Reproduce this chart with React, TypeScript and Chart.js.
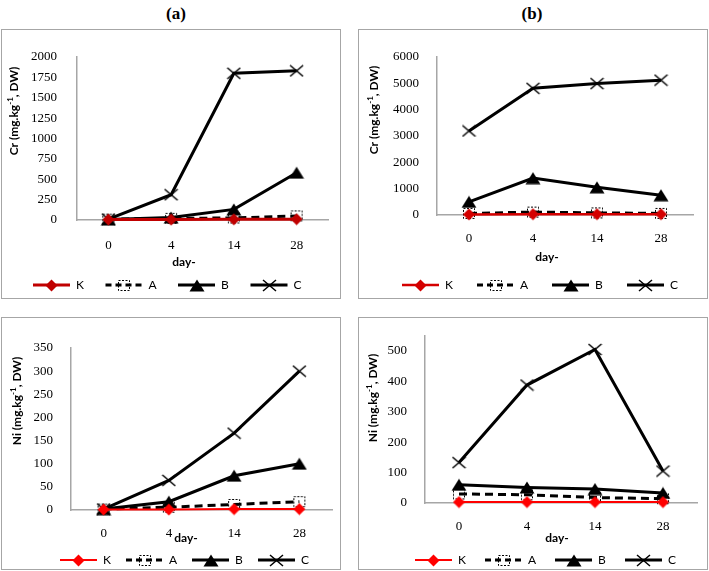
import React, { useEffect, useRef } from 'react';
import { Chart, registerables } from 'chart.js';
Chart.register(...registerables);

// ---------- data ----------
const dayLabels = ['0', '4', '14', '28'];
const seriesNames = ['K', 'A', 'B', 'C'];

// Cr, panel (a)
const crA_K = [5, 5, 8, 10];
const crA_A = [10, 20, 25, 50];
const crA_B = [5, 30, 130, 580];
const crA_C = [10, 310, 1800, 1830];

// Cr, panel (b)
const crB_K = [20, 30, 30, 30];
const crB_A = [60, 110, 80, 60];
const crB_B = [500, 1400, 1050, 750];
const crB_C = [3190, 4810, 4990, 5120];

// Ni, panel (a)
const niA_K = [1, 1, 2, 2];
const niA_A = [2, 6, 12, 18];
const niA_B = [2, 18, 74, 100];
const niA_C = [2, 64, 166, 300];

// Ni, panel (b)
const niB_K = [3, 3, 3, 3];
const niB_A = [30, 27, 18, 14];
const niB_B = [60, 51, 46, 33];
const niB_C = [133, 388, 505, 105];

// axis settings
const crAAxis = { max: 2000, step: 250 };
const crBAxis = { max: 6000, step: 1000 };
const niAAxis = { max: 350, step: 50 };
const niBAxis = { max: 550, step: 100 };

const serifFont = 'Liberation Serif, Times New Roman, serif';
const sansFont = 'Lato, Liberation Sans, Arial, sans-serif';

type PanelCfg = {
  left: number; top: number; width: number; height: number;
  chartLeft: number; chartRight: number; chartTop: number; chartBottom: number;
  yTickPad: number; xTickPad: number;
  axis: { max: number; step: number };
  element: string;
  data: number[][];
  kColor: string; kWidth: number;
  yTitleX: number; yTitleY: number;
  xTitleX: number; xTitleY: number;
  legendX: number; legendY: number; legendPitch: number;
};

function makeMarker(kind: string, color: string): HTMLCanvasElement {
  const c = document.createElement('canvas');
  if (kind === 'diamond') {
    c.width = 13; c.height = 13;
    const ctx = c.getContext('2d')!;
    ctx.fillStyle = color;
    ctx.beginPath();
    ctx.moveTo(6.5, 0.5); ctx.lineTo(12.5, 6.5); ctx.lineTo(6.5, 12.5); ctx.lineTo(0.5, 6.5);
    ctx.closePath(); ctx.fill();
  } else if (kind === 'square') {
    c.width = 14; c.height = 13;
    const ctx = c.getContext('2d')!;
    ctx.strokeStyle = color; ctx.lineWidth = 1;
    ctx.setLineDash([2, 1.5]);
    ctx.strokeRect(1.5, 1.5, 11, 10);
  } else if (kind === 'triangle') {
    c.width = 16; c.height = 13;
    const ctx = c.getContext('2d')!;
    ctx.fillStyle = color;
    ctx.beginPath();
    ctx.moveTo(8, 0.5); ctx.lineTo(15.5, 12.5); ctx.lineTo(0.5, 12.5);
    ctx.closePath(); ctx.fill();
  } else {
    c.width = 15; c.height = 13;
    const ctx = c.getContext('2d')!;
    ctx.strokeStyle = color; ctx.lineWidth = 1.5;
    ctx.beginPath();
    ctx.moveTo(1, 1); ctx.lineTo(14, 12);
    ctx.moveTo(14, 1); ctx.lineTo(1, 12);
    ctx.stroke();
  }
  return c;
}

function Panel({ cfg }: { cfg: PanelCfg }) {
  const ref = useRef<HTMLCanvasElement | null>(null);
  const cw = cfg.width - 2;
  const ch = cfg.height - 2;

  useEffect(() => {
    if (!ref.current) return;
    const markers = [
      makeMarker('diamond', cfg.kColor),
      makeMarker('square', '#000'),
      makeMarker('triangle', '#000'),
      makeMarker('x', '#000'),
    ];
    const styles = [
      { color: cfg.kColor, width: cfg.kWidth, dash: [] as number[] },
      { color: '#000', width: 3, dash: [8, 5] },
      { color: '#000', width: 3, dash: [] as number[] },
      { color: '#000', width: 3, dash: [] as number[] },
    ];

    const decor = {
      id: 'decor',
      afterDraw(chart: any) {
        const ctx = chart.ctx as CanvasRenderingContext2D;
        // y title with superscript
        ctx.save();
        ctx.translate(cfg.yTitleX, cfg.yTitleY);
        ctx.rotate(-Math.PI / 2);
        ctx.fillStyle = '#000';
        ctx.textBaseline = 'middle';
        ctx.textAlign = 'left';
        const pre = cfg.element + ' (mg.kg';
        const sup = '-1';
        const post = ', DW)';
        const fMain = 'bold 12px ' + sansFont;
        const fSup = 'bold 8px ' + sansFont;
        ctx.font = fMain;
        const w1 = ctx.measureText(pre).width;
        const w3 = ctx.measureText(post).width;
        ctx.font = fSup;
        const w2 = ctx.measureText(sup).width;
        let cx = -(w1 + w2 + w3) / 2;
        ctx.font = fMain; ctx.fillText(pre, cx, 0); cx += w1;
        ctx.font = fSup; ctx.fillText(sup, cx, -4); cx += w2;
        ctx.font = fMain; ctx.fillText(post, cx, 0);
        ctx.restore();

        // x title
        ctx.save();
        ctx.fillStyle = '#000';
        ctx.font = fMain;
        ctx.textAlign = 'center';
        ctx.textBaseline = 'middle';
        ctx.fillText('day-', cfg.xTitleX, cfg.xTitleY);
        ctx.restore();

        // legend
        const L = 37;
        let x = cfg.legendX;
        const y = cfg.legendY;
        seriesNames.forEach((name, i) => {
          const st = styles[i];
          ctx.save();
          ctx.strokeStyle = st.color;
          ctx.lineWidth = st.width;
          ctx.setLineDash(i === 1 ? [6, 4] : []);
          ctx.beginPath();
          ctx.moveTo(x, y); ctx.lineTo(x + L, y);
          ctx.stroke();
          ctx.restore();
          const m = markers[i];
          ctx.drawImage(m, Math.round(x + L / 2 - m.width / 2), Math.round(y - m.height / 2));
          ctx.save();
          ctx.fillStyle = '#000';
          ctx.font = '12px ' + sansFont;
          ctx.textAlign = 'left';
          ctx.textBaseline = 'middle';
          ctx.fillText(name, x + L + 6, y);
          ctx.restore();
          x += cfg.legendPitch;
        });
      },
    };

    const datasets = cfg.data.map((vals, i) => ({
      label: seriesNames[i],
      data: vals,
      borderColor: styles[i].color,
      backgroundColor: styles[i].color,
      borderWidth: styles[i].width,
      borderDash: styles[i].dash,
      pointStyle: markers[i],
      pointRadius: 5,
      tension: 0,
      clip: false as any,
    }));

    const step = cfg.axis.step;
    const tickFont = { family: serifFont, size: 13, weight: 'normal' as const };
    const chart = new Chart(ref.current, {
      type: 'line',
      data: { labels: dayLabels, datasets },
      options: {
        animation: false,
        responsive: false,
        maintainAspectRatio: false,
        devicePixelRatio: 1,
        events: [],
        font: { family: serifFont },
        layout: {
          padding: { left: 0, top: cfg.chartTop, right: cw - cfg.chartRight, bottom: 0 },
        },
        plugins: {
          legend: { display: false },
          tooltip: { enabled: false },
          title: { display: false },
        },
        scales: {
          x: {
            type: 'category',
            offset: true,
            grid: { display: false },
            border: { display: true, color: '#a6a6a6', width: 1.5 },
            ticks: {
              font: tickFont,
              color: '#000',
              padding: cfg.xTickPad,
              maxRotation: 0,
              autoSkip: false,
            },
            afterFit: (s: any) => { s.height = ch - cfg.chartBottom; },
          },
          y: {
            min: 0,
            max: cfg.axis.max,
            grid: { display: false },
            border: { display: true, color: '#a6a6a6', width: 1.5 },
            ticks: {
              stepSize: step,
              font: tickFont,
              color: '#000',
              padding: cfg.yTickPad,
              callback: (v: any) => String(v),
            },
            afterBuildTicks: (s: any) => {
              s.ticks = s.ticks.filter((t: any) => Math.abs(t.value % step) < 1e-9);
            },
            afterFit: (s: any) => { s.width = cfg.chartLeft; },
          },
        },
      } as any,
      plugins: [decor],
    });
    return () => chart.destroy();
  }, [cfg]);

  return (
    <div
      style={{
        position: 'absolute',
        left: cfg.left,
        top: cfg.top,
        width: cfg.width,
        height: cfg.height,
        border: '1px solid #a6a6a6',
        boxSizing: 'border-box',
        background: '#fff',
      }}
    >
      <canvas
        ref={ref}
        width={cw}
        height={ch}
        style={{ position: 'absolute', left: 0, top: 0, width: cw, height: ch }}
      />
    </div>
  );
}

const panels: PanelCfg[] = [
  {
    left: 1, top: 29, width: 340, height: 270,
    chartLeft: 75, chartRight: 326, chartTop: 27, chartBottom: 190,
    yTickPad: 12, xTickPad: 10,
    axis: crAAxis, element: 'Cr',
    data: [crA_K, crA_A, crA_B, crA_C],
    kColor: '#c00000', kWidth: 3,
    yTitleX: 12, yTitleY: 81, xTitleX: 182, xTitleY: 232,
    legendX: 31, legendY: 255, legendPitch: 72.5,
  },
  {
    left: 358, top: 29, width: 350, height: 270,
    chartLeft: 78, chartRight: 334, chartTop: 27, chartBottom: 185,
    yTickPad: 10, xTickPad: 8,
    axis: crBAxis, element: 'Cr',
    data: [crB_K, crB_A, crB_B, crB_C],
    kColor: '#d40000', kWidth: 2.5,
    yTitleX: 15, yTitleY: 80, xTitleX: 188, xTitleY: 227,
    legendX: 43, legendY: 255, legendPitch: 75,
  },
  {
    left: 1, top: 317, width: 340, height: 253,
    chartLeft: 69, chartRight: 336, chartTop: 30, chartBottom: 192,
    yTickPad: 10, xTickPad: 8,
    axis: niAAxis, element: 'Ni',
    data: [niA_K, niA_A, niA_B, niA_C],
    kColor: '#ff0000', kWidth: 2,
    yTitleX: 15, yTitleY: 83, xTitleX: 184, xTitleY: 220,
    legendX: 58, legendY: 242, legendPitch: 66,
  },
  {
    left: 358, top: 317, width: 350, height: 253,
    chartLeft: 66, chartRight: 338, chartTop: 15, chartBottom: 185,
    yTickPad: 10, xTickPad: 8,
    axis: niBAxis, element: 'Ni',
    data: [niB_K, niB_A, niB_B, niB_C],
    kColor: '#ff0000', kWidth: 2,
    yTitleX: 14, yTitleY: 80, xTitleX: 198, xTitleY: 220,
    legendX: 56, legendY: 242, legendPitch: 70,
  },
];

const headStyle: React.CSSProperties = {
  position: 'absolute',
  top: 4,
  width: 60,
  textAlign: 'center',
  fontFamily: serifFont,
  fontWeight: 'bold',
  fontSize: 17,
  lineHeight: '20px',
  color: '#000',
};

export default function App() {
  return (
    <div
      style={{
        position: 'absolute',
        left: 0,
        top: 0,
        width: 709,
        height: 571,
        background: '#fff',
        overflow: 'hidden',
      }}
    >
      <div style={{ ...headStyle, left: 146 }}>(a)</div>
      <div style={{ ...headStyle, left: 502 }}>(b)</div>
      {panels.map((p, i) => (
        <Panel key={i} cfg={p} />
      ))}
    </div>
  );
}
